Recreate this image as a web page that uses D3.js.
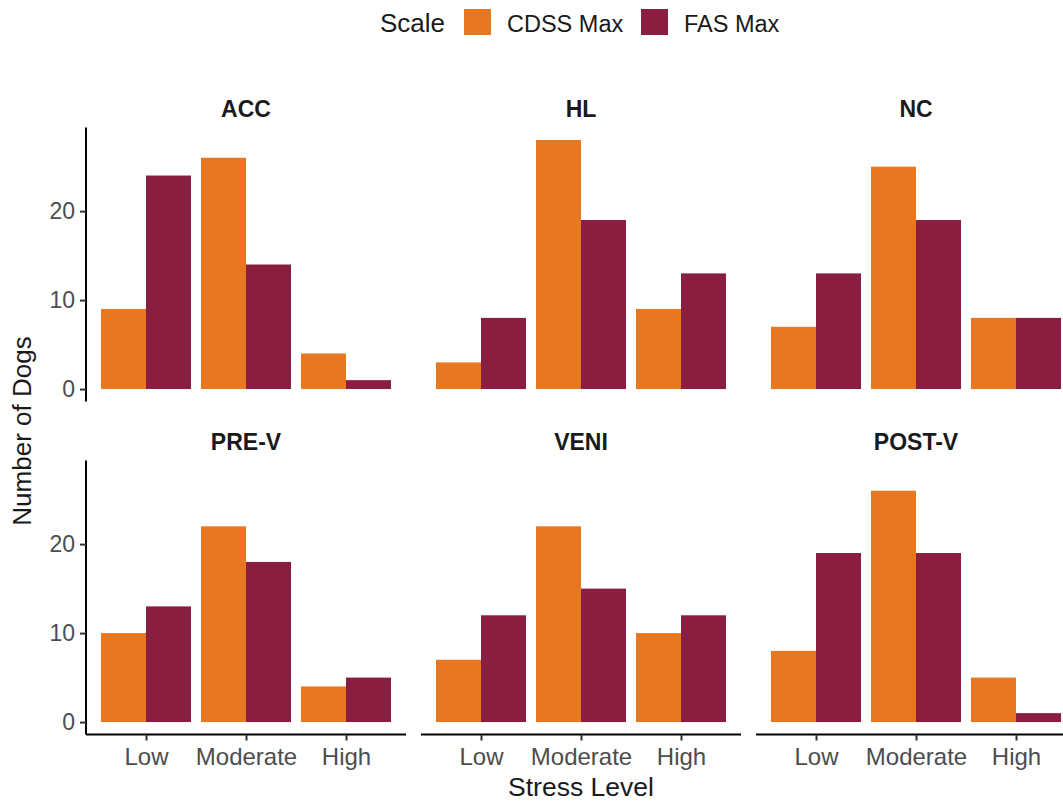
<!DOCTYPE html>
<html lang="en">
<head>
  <meta charset="UTF-8" />
  <title>Stress Level by Scale</title>
  <script src="https://d3js.org/d3.v7.min.js"></script>
  <style>
    body { margin: 0; background-color: white; }
    text { font-family: "Liberation Sans", Arial, sans-serif; }
  </style>
</head>
<body>
<div id="my_dataviz"></div>
<script>
// data
var panels = ["ACC", "HL", "NC", "PRE-V", "VENI", "POST-V"];
var levels = ["Low", "Moderate", "High"];
var scales = ["CDSS Max", "FAS Max"];
var cdss = [[9, 26, 4], [3, 28, 9], [7, 25, 8], [10, 22, 4], [7, 22, 10], [8, 26, 5]];
var fas  = [[24, 14, 1], [8, 19, 13], [13, 19, 8], [13, 18, 5], [12, 15, 12], [19, 19, 1]];
var yTicks = [0, 10, 20];
var colors = ["#E87722", "#8A1E41"];

var W = 1063, H = 801;
var panelW = 320, panelH = 274;
var colX = [86, 421, 756];
var rowY = [127.5, 460.5];

var svg = d3.select("#my_dataviz").append("svg")
  .attr("width", W).attr("height", H);

// legend
var leg = svg.append("g");
leg.append("text").attr("x", 380).attr("y", 32).style("font-size", "26px").style("fill", "#1a1a1a").text("Scale");
var legX = [464, 641];
scales.forEach(function(s, i) {
  leg.append("rect").attr("x", legX[i]).attr("y", 9).attr("width", 27).attr("height", 26).style("fill", colors[i]);
  leg.append("text").attr("x", legX[i] + 43).attr("y", 32).style("font-size", "23.5px").style("fill", "#1a1a1a").text(s);
});

// ggplot style: discrete expansion 0.6 on each side, bar group width 0.9
var xc = d3.scaleLinear().domain([0.4, 3.6]).range([0, panelW]);
var y = d3.scaleLinear().domain([-1.4, 29.4]).range([panelH, 0]);

panels.forEach(function(p, k) {
  var col = k % 3, row = Math.floor(k / 3);
  var g = svg.append("g").attr("transform", "translate(" + colX[col] + "," + rowY[row] + ")");

  // strip label
  g.append("text").attr("x", panelW / 2).attr("y", -11).attr("text-anchor", "middle")
    .style("font-size", "23px").style("font-weight", "bold").style("fill", "#1a1a1a").text(p);

  var rows = [];
  levels.forEach(function(l, i) {
    rows.push({ lev: i + 1, s: 0, v: cdss[k][i] });
    rows.push({ lev: i + 1, s: 1, v: fas[k][i] });
  });

  g.selectAll("rect.bar").data(rows).enter().append("rect")
    .attr("class", "bar")
    .attr("x", function(d) { return xc(d.lev - 0.45 + d.s * 0.45); })
    .attr("width", xc(0.85) - xc(0.4))
    .attr("y", function(d) { return y(d.v); })
    .attr("height", function(d) { return y(0) - y(d.v); })
    .style("fill", function(d) { return colors[d.s]; });

  if (col == 0) {
    var ya = g.append("g").call(d3.axisLeft(y).tickValues(yTicks).tickSize(6).tickPadding(5));
    ya.select(".domain").attr("stroke", "#000").attr("stroke-width", 2).attr("d", "M0," + panelH + "V0");
    ya.selectAll(".tick line").attr("stroke", "#333").attr("stroke-width", 2);
    ya.selectAll(".tick text").style("font-size", "23px").style("fill", "#4d4d4d").style("font-family", "Liberation Sans, Arial, sans-serif");
  }
  if (row == 1) {
    var xa = g.append("g").attr("transform", "translate(0," + panelH + ")")
      .call(d3.axisBottom(xc).tickValues([1, 2, 3]).tickFormat(function(d) { return levels[d - 1]; }).tickSize(6).tickPadding(7));
    xa.select(".domain").attr("stroke", "#000").attr("stroke-width", 2).attr("d", "M0,0H" + panelW);
    xa.selectAll(".tick line").attr("stroke", "#333").attr("stroke-width", 2);
    xa.selectAll(".tick text").style("font-size", "24px").style("fill", "#4d4d4d").style("font-family", "Liberation Sans, Arial, sans-serif");
  }
});

// axis titles
svg.append("text").attr("x", 581).attr("y", 796).attr("text-anchor", "middle")
  .style("font-size", "26.5px").style("fill", "#1a1a1a").text("Stress Level");
svg.append("text").attr("transform", "translate(31,431) rotate(-90)").attr("text-anchor", "middle")
  .style("font-size", "26px").style("fill", "#1a1a1a").text("Number of Dogs");
</script>
</body>
</html>
